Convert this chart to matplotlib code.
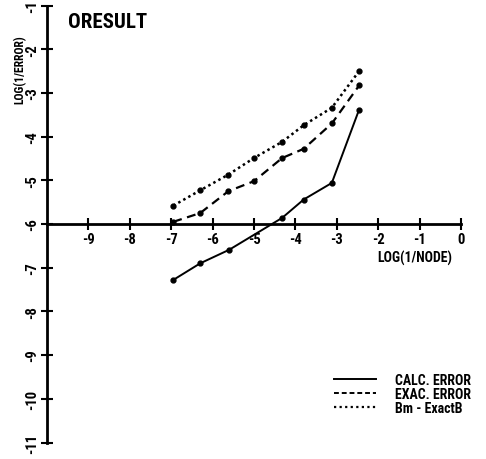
import matplotlib
matplotlib.use("Agg")
import matplotlib.pyplot as plt

# data
calc_x = [-6.95, -6.3, -5.6, -4.32, -3.8, -3.12, -2.46]
calc_y = [-7.28, -6.90, -6.59, -5.86, -5.44, -5.06, -3.38]
exac_x = [-6.95, -6.3, -5.62, -5.0, -4.32, -3.8, -3.12, -2.46]
exac_y = [-5.95, -5.75, -5.25, -5.02, -4.49, -4.28, -3.70, -2.83]
bm_x = [-6.95, -6.3, -5.62, -5.0, -4.32, -3.8, -3.12, -2.46]
bm_y = [-5.58, -5.23, -4.87, -4.49, -4.12, -3.74, -3.34, -2.50]
xticks = [-9, -8, -7, -6, -5, -4, -3, -2, -1, 0]
yticks = [-1, -2, -3, -4, -5, -6, -7, -8, -9, -10, -11]
labels = ["CALC. ERROR", "EXAC. ERROR", "Bm - ExactB"]

FONT = ["DejaVu Sans Condensed", "Roboto Condensed", "DejaVu Sans"]
plt.rcParams['font.family'] = FONT
plt.rcParams['font.weight'] = 'bold'

W, H = 486, 460
fig = plt.figure(figsize=(W / 100, H / 100), dpi=100)
ax = fig.add_axes([0, 0, 1, 1])

sx = 41.4
sy = 43.7
x0px, y0px = 461, 225
ax.set_xlim((0 - x0px) / sx, (W - x0px) / sx)
ax.set_ylim(-6 - (H - y0px) / sy, -6 + y0px / sy)

for s in ['top', 'right']:
    ax.spines[s].set_visible(False)
ax.spines['left'].set_position(('data', -10))
ax.spines['bottom'].set_position(('data', -6))
ax.spines['left'].set_bounds(-11, -1)
ax.spines['bottom'].set_bounds(-10, 0)
for s in ['left', 'bottom']:
    ax.spines[s].set_linewidth(2.0)

ax.set_xticks(xticks)
ax.set_yticks(yticks)
ax.set_xticklabels([str(v) for v in xticks], fontsize=10.5, fontweight='bold')
ax.set_yticklabels([str(v) for v in yticks], fontsize=10.5, fontweight='bold',
                   rotation=90, va='center')
ax.tick_params(axis='both', direction='inout', length=9, width=1.5)
ax.tick_params(axis='x', pad=1)
ax.tick_params(axis='y', pad=1)
ax.patch.set_visible(False)

ax.plot(calc_x, calc_y, color='black', lw=1.4, ls='-', marker='o', ms=3.5)
ax.plot(exac_x, exac_y, color='black', lw=1.6, ls=(0, (4, 2.5)), marker='o', ms=3.5)
ax.plot(bm_x, bm_y, color='black', lw=1.8, ls=(0, (1, 1.3)), marker='o', ms=3.5)

ax.text(68 / W, 1 - 23 / H, "ORESULT", transform=ax.transAxes, fontsize=15,
        fontweight='bold', ha='left', va='center')
ax.text(20 / W, 1 - 70 / H, "LOG(1/ERROR)", transform=ax.transAxes, fontsize=8.5,
        fontweight='bold', ha='center', va='center', rotation=90)
ax.text(415 / W, 1 - 258 / H, "LOG(1/NODE)", transform=ax.transAxes, fontsize=10,
        fontweight='bold', ha='center', va='center')

h1, = ax.plot([], [], color='black', lw=1.4, ls='-')
h2, = ax.plot([], [], color='black', lw=1.4, ls=(0, (2.5, 1.5)))
h3, = ax.plot([], [], color='black', lw=1.6, ls=(0, (1, 1.5)))
ax.legend([h1, h2, h3], labels, loc='upper left',
          bbox_to_anchor=(334 / W, 1 - 374 / H), bbox_transform=fig.transFigure,
          frameon=False, handlelength=3.0, handletextpad=1.4,
          labelspacing=0.0, borderpad=0, borderaxespad=0,
          prop={'family': FONT, 'weight': 'bold', 'size': 10})

fig.savefig("out.png", dpi=100)
